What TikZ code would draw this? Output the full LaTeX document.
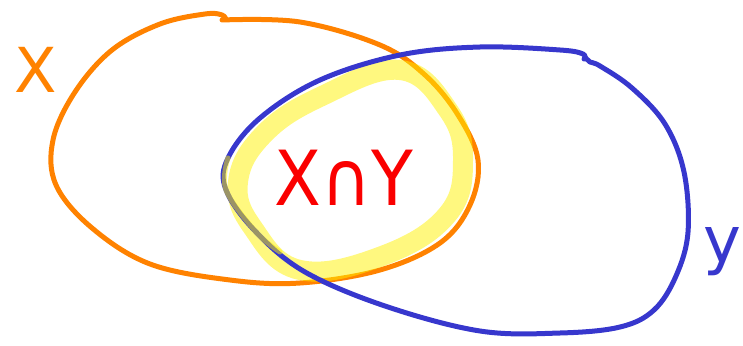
\documentclass[tikz,border=0pt]{standalone}
\usepackage{fontspec}
\setmainfont{DejaVu Sans}
\usetikzlibrary{calc}

\definecolor{setorange}{RGB}{255,130,0}
\definecolor{setblue}{RGB}{55,55,205}
\definecolor{setred}{RGB}{250,0,0}

\begin{document}
\begin{tikzpicture}[x=1pt, y=-1pt, line cap=round, line join=round]

    % 画布大小 (与参考图同比例)
    \useasboundingbox (0,0) rectangle (743,345);

    % 1. 集合 X (橙色手绘椭圆)
    \draw[setorange, line width=5pt] plot[smooth, tension=0.6] coordinates {
      (222,20) (300,22) (380,45) (425,75) (458,115) (478,160) (470,205)
      (440,243) (380,270) (300,283) (230,280) (150,264) (92,228) (56,185)
      (53,140) (75,92) (112,50) (160,24) (205,14) (222,15) (226,20)};

    % 3. 交集 X∩Y 的黄色高亮
    \draw[yellow, opacity=0.5, line width=20pt] plot[smooth cycle, tension=0.7] coordinates {
      (238,182) (264,134) (322,96) (400,70) (448,110) (463,160) (447,215)
      (382,256) (300,270) (253,228)};

    % 2. 集合 Y (蓝色手绘椭圆)
    \draw[setblue, line width=5pt] plot[smooth, tension=0.6] coordinates {
      (585,57) (590,62) (600,66) (632,88) (665,124) (684,172) (688,232)
      (676,276) (654,310) (620,327) (560,333) (480,331) (385,306) (305,272)
      (256,232) (226,190) (228,158) (260,118) (320,80) (400,55) (480,47)
      (560,50) (583,54) (584,59)};

    % 左下方被黄色覆盖的一段
    \draw[yellow, opacity=0.5, line width=5pt] plot[smooth, tension=0.6] coordinates {
      (280,252) (256,232) (226,190) (228,158)};

    % 4. 标签
    \node[setorange, inner sep=0pt] (lblX) at (36,70) {\fontsize{62}{62}\selectfont X};
    \node[setblue, inner sep=0pt] (lblY) at (722,252) {\fontsize{64}{64}\selectfont y};
    \node[setred, inner sep=0pt, xscale=0.9] (lblXY) at (344,178) {\fontsize{76}{76}\selectfont X∩Y};

\end{tikzpicture}
\end{document}
